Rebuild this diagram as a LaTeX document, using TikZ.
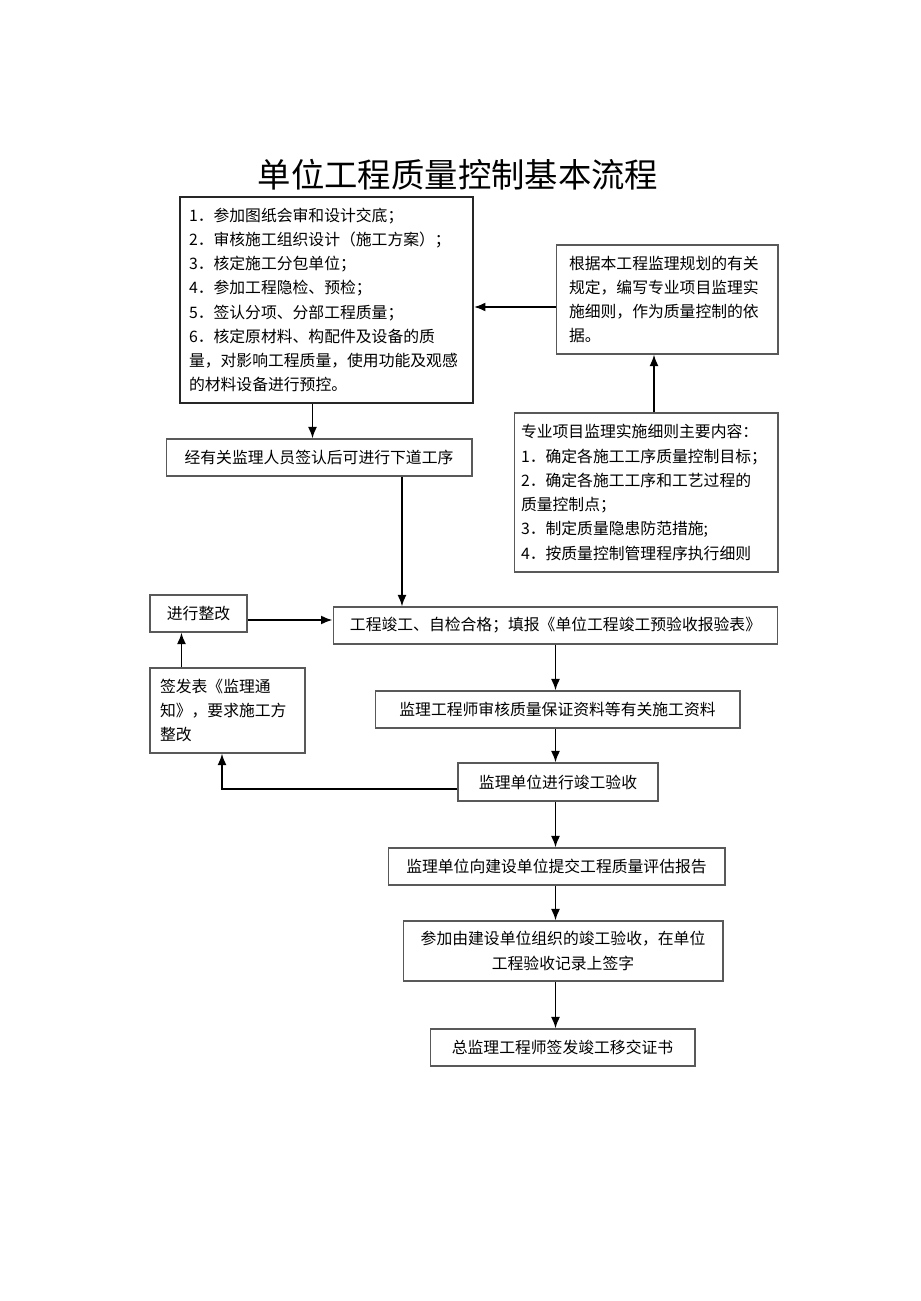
\documentclass[tikz,border=0pt]{standalone}
\usepackage{fontspec}
\setmainfont{Noto Sans CJK SC}
\usetikzlibrary{arrows.meta}

\tikzset{
  box/.style={draw=black!65, line width=0.6pt, inner sep=0pt, minimum height=0.74cm, font=\fontsize{9}{13.8}\selectfont},
  arr/.style={draw=black, line width=1.1pt, -{Latex[length=2.3mm,width=1.8mm]}}
}

\begin{document}
\begin{tikzpicture}[x=0.02cm, y=-0.02cm]
\useasboundingbox (0,0) rectangle (920,1301);

\node at (458,175) {\fontsize{19}{22}\selectfont 单位工程质量控制基本流程};

\node[box, draw=black!85, line width=1.1pt, minimum width=5.86cm, minimum height=4.12cm, text width=5.5cm, align=left] (b1) at (326.5,300) {1．参加图纸会审和设计交底；\\2．审核施工组织设计（施工方案）；\\3．核定施工分包单位；\\4．参加工程隐检、预检；\\5．签认分项、分部工程质量；\\6．核定原材料、构配件及设备的质\\量，对影响工程质量，使用功能及观感\\的材料设备进行预控。};

\node[box, minimum width=4.44cm, minimum height=2.18cm, text width=3.92cm, align=left] (b2) at (667,299.5) {根据本工程监理规划的有关\\规定，编写专业项目监理实\\施细则，作为质量控制的依\\据。};

\node[box, minimum width=5.28cm, minimum height=3.18cm, text width=5.0cm, align=left] (b3) at (646,492.5) {专业项目监理实施细则主要内容：\\1．确定各施工工序质量控制目标；\\2．确定各施工工序和工艺过程的\\质量控制点；\\3．制定质量隐患防范措施;\\4．按质量控制管理程序执行细则};

\node[box, minimum width=6.12cm] (b4) at (319,457.5) {经有关监理人员签认后可进行下道工序};

\node[box, minimum width=1.94cm] (b5) at (198.5,613.5) {进行整改};

\node[box, minimum width=8.9cm] (b6) at (555.5,625.5) {工程竣工、自检合格；填报《单位工程竣工预验收报验表》};

\node[box, minimum width=3.1cm, minimum height=1.7cm, text width=2.7cm, align=left] (b7) at (227.5,710.5) {签发表《监理通\\知》，要求施工方\\整改};

\node[box, minimum width=7.3cm] (b8) at (557.5,709.5) {监理工程师审核质量保证资料等有关施工资料};

\node[box, minimum width=4cm, minimum height=0.76cm] (b9) at (558,782) {监理单位进行竣工验收};

\node[box, minimum width=6.74cm] (b10) at (556.5,866.5) {监理单位向建设单位提交工程质量评估报告};

\node[box, minimum width=6.4cm, minimum height=1.2cm, align=center] (b11) at (563,951) {参加由建设单位组织的竣工验收，在单位\\工程验收记录上签字};

\node[box, minimum width=5.3cm] (b12) at (562.5,1047.5) {总监理工程师签发竣工移交证书};

% upper part
\draw[arr] ([yshift=-0.15cm]b2.west) -- ([yshift=-0.15cm]b2.west -| b1.east);
\draw[arr] ([xshift=0.16cm]b3.north) -- ([xshift=0.16cm]b3.north |- b2.south);
\draw[arr] ([xshift=-0.28cm]b1.south) -- ([xshift=-0.28cm]b1.south |- b4.north);
\draw[arr] ([xshift=1.66cm]b4.south) -- ([xshift=1.66cm]b4.south |- b6.north);

% rework loop
\draw[arr] ([yshift=-0.13cm]b5.east) -- ([yshift=-0.13cm]b5.east -| b6.west);
\draw[arr] ([yshift=-0.14cm]b9.west) -| ([xshift=-0.11cm]b7.south);
\draw[arr] ([xshift=0.64cm]b7.north west) -- ([xshift=0.64cm]b7.north west |- b5.south);

% main column
\draw[arr] (b6.south) -- (b6.south |- b8.north);
\draw[arr] (b8.south -| b6.south) -- (b6.south |- b9.north);
\draw[arr] (b9.south -| b6.south) -- (b6.south |- b10.north);
\draw[arr] (b10.south -| b6.south) -- (b6.south |- b11.north);
\draw[arr] (b11.south -| b6.south) -- (b6.south |- b12.north);
\end{tikzpicture}
\end{document}
